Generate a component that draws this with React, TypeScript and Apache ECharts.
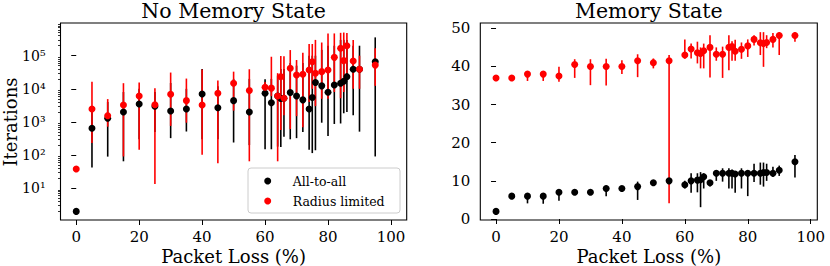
import React, { useEffect, useRef } from "react";
import * as echarts from "echarts";

// ---- data ----
const packetLoss = [0, 5, 10, 15, 20, 25, 30, 35, 40, 45, 50, 55, 60, 62, 64, 65, 66, 68, 70, 72, 74, 75, 76, 78, 80, 82, 84, 85, 86, 88, 90, 95];

// No Memory State (iterations, log scale)
const nmAllMean = [2, 650, 1300, 2000, 3500, 3000, 2150, 2450, 7000, 2700, 4400, 2000, 7400, 3800, 6100, 5100, 5200, 7700, 6100, 4650, 2460, 5500, 15500, 12300, 7900, 13100, 14800, 17000, 23300, 39000, 39000, 66000];
const nmAllLow = [2, 42, 90, 65, 300, 500, 325, 515, 300, 300, 240, 200, 150, 150, 180, 175, 360, 300, 325, 500, 145, 115, 140, 950, 380, 870, 900, 1830, 2000, 1600, 510, 91];
const nmAllHigh = [2, 3000, 4000, 8000, 10000, 8000, 15000, 10000, 40000, 12000, 20000, 20000, 19500, 20000, 25000, 40000, 40000, 60000, 50000, 60000, 100000, 100000, 100000, 150000, 200000, 200000, 300000, 300000, 300000, 200000, 200000, 357000];
const nmRadMean = [38, 2450, 1550, 3270, 6100, 3300, 6900, 4400, 3270, 7400, 14800, 8900, 11200, 10500, 6100, 23300, 5200, 41700, 26000, 27600, 37000, 66000, 29700, 33000, 37000, 89000, 167000, 71000, 200000, 69000, 39000, 52000];
const nmRadLow = [38, 230, 720, 91, 145, 13.4, 760, 950, 103, 57, 2200, 65, 7000, 6000, 65, 575, 1600, 610, 1500, 690, 4000, 10000, 3000, 5000, 5000, 8000, 5200, 8000, 20000, 10000, 10000, 12300];
const nmRadHigh = [38, 16500, 4900, 14800, 15500, 10500, 31000, 20400, 38000, 17800, 33000, 39000, 16000, 93000, 29700, 98000, 96000, 148000, 74000, 123000, 225000, 225000, 300000, 250000, 470000, 470000, 490000, 500000, 480000, 300000, 100000, 168000];

// Memory State (iterations, linear)
const msAllMean = [2, 6, 6, 6, 7, 7, 7, 8, 8, 8.5, 9.5, 10, 9, 10, 10.2, 10.3, 11.1, 9.5, 12, 12, 12, 12, 11.8, 12, 12, 12, 12, 12.2, 12.2, 12, 12.8, 15];
const msAllLow = [2, 6, 4.1, 4, 4.8, 6.5, 6.5, 6, 7.5, 5, 9, 9.5, 8, 6.9, 7, 3.1, 8, 8.5, 10, 9.8, 8, 8, 6.9, 8, 6, 9.7, 9, 8.5, 10, 11, 11.3, 10.9];
const msAllHigh = [2, 6, 6.5, 6.5, 7.5, 7.5, 7.5, 8.8, 8.5, 9.8, 10, 10.5, 10, 12, 12, 12.3, 12, 10, 12.5, 13.3, 13.3, 13, 12.5, 13.3, 12.5, 14.5, 14.8, 14.8, 14.5, 13.7, 14, 16.8];
const msRadMean = [37, 37, 38, 38, 37.5, 40.5, 40, 40, 40, 41.5, 41, 41.5, 43, 44.6, 43.6, 43.4, 44.1, 45, 43.2, 43.2, 45, 45.2, 44, 44.5, 45.4, 47.1, 46.2, 46, 46.3, 47.1, 48.1, 48.1];
const msRadLow = [37, 37, 36.2, 36.2, 36, 37, 35.1, 35, 38, 37.2, 39.5, 4.1, 42, 42.1, 40.8, 39.5, 39.5, 37.1, 41.5, 37, 39, 41.5, 41.5, 42, 42.5, 45.5, 43, 39.9, 44.8, 45, 43, 46.5];
const msRadHigh = [37, 37, 38.6, 38.6, 39.9, 41.9, 41.9, 42, 41.6, 43.2, 42.1, 43, 47.1, 46, 46.5, 45, 46, 48.2, 45, 45.2, 48.2, 46.6, 47, 46.3, 47.1, 48.2, 49, 49, 48.2, 48.8, 49, 49];

// ticks
const xTicks = [0, 20, 40, 60, 80, 100];
const logTickExps = [1, 2, 3, 4, 5];
const linTicks = [0, 10, 20, 30, 40, 50];
const seriesNames = ["All-to-all", "Radius limited"];

const FONT = "DejaVu Serif";
const SUP = ["⁰", "¹", "²", "³", "⁴", "⁵", "⁶"];

const lg = (v: number) => Math.log10(v);

const minorLog: number[] = [];
for (let n = 0; n <= 5; n++) for (let k = 2; k <= 9; k++) minorLog.push(Math.log10(k * Math.pow(10, n)));

function errSeries(name: string, color: string, xi: number, yi: number, lo: number[], hi: number[], tf: (v: number) => number) {
  return {
    name,
    type: "custom",
    xAxisIndex: xi,
    yAxisIndex: yi,
    z: 2,
    silent: true,
    encode: { x: 0, y: [1, 2] },
    data: packetLoss.map((x, i) => [x, tf(lo[i]), tf(hi[i])]),
    renderItem: (_p: any, api: any) => {
      const a = api.coord([api.value(0), api.value(1)]);
      const b = api.coord([api.value(0), api.value(2)]);
      return {
        type: "line",
        shape: { x1: a[0], y1: a[1], x2: b[0], y2: b[1] },
        style: { stroke: color, lineWidth: 1.6 },
      };
    },
  };
}

function dotSeries(name: string, color: string, xi: number, yi: number, vals: number[], tf: (v: number) => number) {
  return {
    name,
    type: "scatter",
    xAxisIndex: xi,
    yAxisIndex: yi,
    z: 3,
    symbol: "circle",
    symbolSize: 7,
    itemStyle: { color, opacity: 1 },
    data: packetLoss.map((x, i) => [x, tf(vals[i])]),
  };
}

const tickStyle = { color: "#000", width: 1 };
const labelStyle = { color: "#000", fontFamily: FONT, fontSize: 15 };

export default function App() {
  const ref = useRef<HTMLDivElement>(null);
  useEffect(() => {
    if (!ref.current) return;
    const chart = echarts.init(ref.current, null, { renderer: "svg" });
    const id = (v: number) => v;
    const option: any = {
      animation: false,
      backgroundColor: "#fff",
      grid: [
        { left: 60.5, top: 23, width: 346.2, height: 197, show: true, borderColor: "#000", borderWidth: 1.1, backgroundColor: "transparent" },
        { left: 480.3, top: 23, width: 337, height: 197, show: true, borderColor: "#000", borderWidth: 1.1, backgroundColor: "transparent" },
      ],
      xAxis: [
        {
          type: "value", gridIndex: 0, min: -5, max: 105,
          axisLine: { show: false }, splitLine: { show: false },
          axisTick: { show: true, length: 5, lineStyle: tickStyle, customValues: xTicks },
          axisLabel: { ...labelStyle, margin: 9, customValues: xTicks },
        },
        {
          type: "value", gridIndex: 1, min: -5, max: 102.1,
          axisLine: { show: false }, splitLine: { show: false },
          axisTick: { show: true, length: 5, lineStyle: tickStyle, customValues: xTicks },
          axisLabel: { ...labelStyle, margin: 9, customValues: xTicks },
        },
      ],
      yAxis: [
        {
          type: "value", gridIndex: 0, min: lg(1.1), max: lg(9.7e5), position: "left",
          axisLine: { show: false }, splitLine: { show: false },
          axisTick: { show: true, length: 5, lineStyle: tickStyle, customValues: logTickExps },
          axisLabel: {
            ...labelStyle, fontSize: 14, margin: 15, customValues: logTickExps,
            formatter: (v: number) => "10" + SUP[Math.round(v)],
          },
        },
        {
          type: "value", gridIndex: 0, min: lg(1.1), max: lg(9.7e5), position: "left", offset: 0,
          axisLine: { show: false }, splitLine: { show: false },
          axisTick: { show: true, length: 2.5, lineStyle: { color: "#000", width: 0.8 }, customValues: minorLog },
          axisLabel: { show: false },
        },
        {
          type: "value", gridIndex: 1, min: -0.26, max: 51.4,
          axisLine: { show: false }, splitLine: { show: false },
          axisTick: { show: true, length: 5, lineStyle: tickStyle, customValues: linTicks },
          axisLabel: { ...labelStyle, margin: 10, customValues: linTicks },
        },
      ],
      graphic: [
        { type: "text", x: 233.6, y: 10.5, style: { text: "No Memory State", font: `20.5px '${FONT}'`, fill: "#000", textAlign: "center", textVerticalAlign: "middle" } },
        { type: "text", x: 648.8, y: 10.5, style: { text: "Memory State", font: `20.5px '${FONT}'`, fill: "#000", textAlign: "center", textVerticalAlign: "middle" } },
        { type: "text", x: 233.6, y: 256, style: { text: "Packet Loss (%)", font: `18px '${FONT}'`, fill: "#000", textAlign: "center", textVerticalAlign: "middle" } },
        { type: "text", x: 648.8, y: 256, style: { text: "Packet Loss (%)", font: `18px '${FONT}'`, fill: "#000", textAlign: "center", textVerticalAlign: "middle" } },
        { type: "text", x: 10.5, y: 122, rotation: Math.PI / 2, style: { text: "Iterations", font: `18px '${FONT}'`, fill: "#000", textAlign: "center", textVerticalAlign: "middle" } },
        // legend
        { type: "rect", z: 10, shape: { x: 248, y: 168, width: 152, height: 45, r: 3 }, style: { fill: "rgba(255,255,255,0.8)", stroke: "#cccccc", lineWidth: 1 } },
        { type: "circle", z: 11, shape: { cx: 267.7, cy: 181, r: 3.5 }, style: { fill: "#000" } },
        { type: "circle", z: 11, shape: { cx: 267.7, cy: 201, r: 3.5 }, style: { fill: "#ff0000" } },
        { type: "text", z: 11, x: 292.7, y: 181, style: { text: seriesNames[0], font: `12.5px '${FONT}'`, fill: "#000", textAlign: "left", textVerticalAlign: "middle" } },
        { type: "text", z: 11, x: 292.7, y: 201, style: { text: seriesNames[1], font: `12.5px '${FONT}'`, fill: "#000", textAlign: "left", textVerticalAlign: "middle" } },
      ],
      series: [
        errSeries("All-to-all err", "#000", 0, 0, nmAllLow, nmAllHigh, lg),
        errSeries("Radius limited err", "#ff0000", 0, 0, nmRadLow, nmRadHigh, lg),
        dotSeries(seriesNames[0], "#000", 0, 0, nmAllMean, lg),
        dotSeries(seriesNames[1], "#ff0000", 0, 0, nmRadMean, lg),
        errSeries("All-to-all err 2", "#000", 1, 2, msAllLow, msAllHigh, id),
        errSeries("Radius limited err 2", "#ff0000", 1, 2, msRadLow, msRadHigh, id),
        dotSeries(seriesNames[0], "#000", 1, 2, msAllMean, id),
        dotSeries(seriesNames[1], "#ff0000", 1, 2, msRadMean, id),
      ],
    };
    chart.setOption(option);
    return () => chart.dispose();
  }, []);
  return <div ref={ref} style={{ position: "fixed", left: 0, top: 0, width: 830, height: 266 }} />;
}
